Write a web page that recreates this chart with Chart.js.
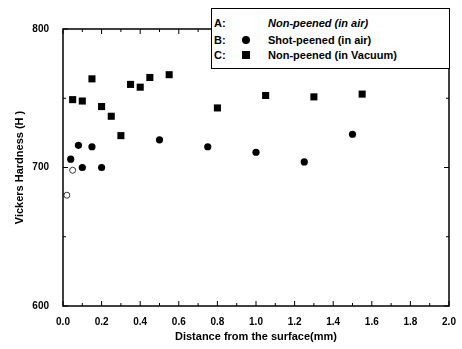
<!DOCTYPE html>
<html>
<head>
<meta charset="utf-8">
<script src="https://cdn.jsdelivr.net/npm/chart.js@4.4.0/dist/chart.umd.min.js"></script>
<style>
  html, body { margin: 0; padding: 0; background: #fff; }
  #wrap { position: relative; width: 462px; height: 349px; }
  #legend { position: absolute; left: 211px; top: 8px; width: 237px; height: 59px; border: 1px solid #000; background: #fff;
    font-family: "Liberation Sans", Arial, sans-serif; font-weight: bold; font-size: 11px; color: #000; }
  .row { position: absolute; left: 0; height: 14px; line-height: 14px; width: 100%; }
  .lab { position: absolute; left: 2px; }
  .txt { position: absolute; left: 56px; white-space: nowrap; }
  .mk { position: absolute; left: 30px; top: 3px; width: 8px; height: 8px; background: #000; }
  .circ { border-radius: 50%; }
</style>
</head>
<body>
<div id="wrap">
  <canvas id="c" width="462" height="349"></canvas>
  <div id="legend">
    <div class="row" style="top:7px"><span class="lab">A:</span><span class="txt" style="font-style:italic">Non-peened (in air)</span></div>
    <div class="row" style="top:24px"><span class="lab">B:</span><span class="mk circ"></span><span class="txt">Shot-peened (in air)</span></div>
    <div class="row" style="top:39px"><span class="lab">C:</span><span class="mk"></span><span class="txt">Non-peened (in Vacuum)</span></div>
  </div>
</div>
<script>
// Series A: Non-peened (in air) - faint open marks
const xA = [0.02, 0.05];
const yA = [680, 698];
// Series B: Shot-peened (in air)
const xB = [0.04, 0.08, 0.10, 0.15, 0.20, 0.50, 0.75, 1.00, 1.25, 1.50];
const yB = [706, 716, 700, 715, 700, 720, 715, 711, 704, 724];
// Series C: Non-peened (in Vacuum)
const xC = [0.05, 0.10, 0.15, 0.20, 0.25, 0.30, 0.35, 0.40, 0.45, 0.55, 0.80, 1.05, 1.30, 1.55];
const yC = [749, 748, 764, 744, 737, 723, 760, 758, 765, 767, 743, 752, 751, 753];
// Axis ticks
const xTicks = [0.0, 0.2, 0.4, 0.6, 0.8, 1.0, 1.2, 1.4, 1.6, 1.8, 2.0];
const yTicks = [600, 700, 800];

const pts = (xs, ys) => xs.map((x, i) => ({ x: x, y: ys[i] }));

const frame = {
  id: 'frame',
  afterDraw(chart) {
    const { ctx, chartArea: a, scales } = chart;
    ctx.save();
    ctx.strokeStyle = '#000';
    ctx.lineWidth = 1.5;
    ctx.strokeRect(a.left, a.top, a.right - a.left, a.bottom - a.top);
    ctx.lineWidth = 1;
    for (let i = 0; i <= 20; i++) {
      const v = i / 10;
      const px = scales.x.getPixelForValue(v);
      const len = i % 2 === 0 ? 5 : 3;
      ctx.beginPath();
      ctx.moveTo(px, a.bottom); ctx.lineTo(px, a.bottom - len);
      ctx.moveTo(px, a.top); ctx.lineTo(px, a.top + len);
      ctx.stroke();
    }
    for (let v = 600; v <= 800; v += 50) {
      const py = scales.y.getPixelForValue(v);
      const len = v % 100 === 0 ? 5 : 3;
      ctx.beginPath();
      ctx.moveTo(a.left, py); ctx.lineTo(a.left + len, py);
      ctx.moveTo(a.right, py); ctx.lineTo(a.right - len, py);
      ctx.stroke();
    }
    ctx.restore();
  }
};

new Chart(document.getElementById('c'), {
  type: 'scatter',
  data: {
    datasets: [
      { label: 'A: Non-peened (in air)', data: pts(xA, yA), pointStyle: 'circle', pointRadius: 3,
        backgroundColor: 'rgba(0,0,0,0)', borderColor: '#333', borderWidth: 1 },
      { label: 'B: Shot-peened (in air)', data: pts(xB, yB), pointStyle: 'circle', pointRadius: 3.6,
        backgroundColor: '#000', borderColor: '#000', borderWidth: 0 },
      { label: 'C: Non-peened (in Vacuum)', data: pts(xC, yC), pointStyle: 'rect', pointRadius: 5,
        backgroundColor: '#000', borderColor: '#000', borderWidth: 0 }
    ]
  },
  options: {
    responsive: false,
    animation: false,
    layout: { padding: { top: 29, right: 13, left: 0, bottom: 0 } },
    plugins: { legend: { display: false }, tooltip: { enabled: false } },
    scales: {
      x: {
        type: 'linear', min: 0, max: 2.0,
        afterBuildTicks: (s) => { s.ticks = xTicks.map(v => ({ value: v })); },
        afterFit: (s) => { s.height = 43; },
        grid: { display: false },
        border: { display: false },
        ticks: { color: '#000', font: { family: 'Liberation Sans', weight: 'bold', size: 10 }, padding: 2,
          maxRotation: 0, autoSkip: false, callback: (v) => Number(v).toFixed(1) },
        title: { display: true, text: 'Distance from the surface(mm)', color: '#000',
          font: { family: 'Liberation Sans', weight: 'bold', size: 11 }, padding: { top: 4, bottom: 5 } }
      },
      y: {
        type: 'linear', min: 600, max: 800,
        afterBuildTicks: (s) => { s.ticks = yTicks.map(v => ({ value: v })); },
        afterFit: (s) => { s.width = 63; },
        grid: { display: false },
        border: { display: false },
        ticks: { color: '#000', font: { family: 'Liberation Sans', weight: 'bold', size: 10 }, padding: 6 },
        title: { display: true, text: 'Vickers Hardness (H )', color: '#000',
          font: { family: 'Liberation Sans', weight: 'bold', size: 11 }, padding: { top: 13, bottom: 4 } }
      }
    }
  },
  plugins: [frame]
});
</script>
</body>
</html>
